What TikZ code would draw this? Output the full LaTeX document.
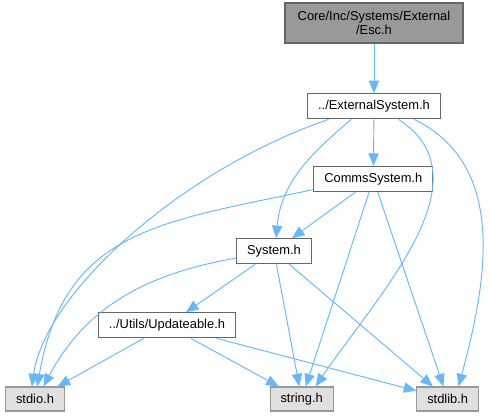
\documentclass[tikz,border=0pt]{standalone}
\usepackage{fontspec}
\setmainfont{Liberation Sans}
\usepackage{xcolor}
\definecolor{EdgeBlue}  {HTML}{63B8FF}
\definecolor{BoxGray}   {HTML}{666666}
\definecolor{RootFill}  {HTML}{999999}
\definecolor{LeafFill}  {HTML}{E0E0E0}
\definecolor{LeafGray}  {HTML}{999999}
\usepackage{tikz}
\usetikzlibrary{
  arrows.meta,
  positioning
}

\begin{document}
\begin{tikzpicture}[
  font=\fontsize{11}{12.5}\selectfont,
  header/.style={
    draw=BoxGray, fill=white,
    line width=0.9pt,
    inner xsep=0.31cm, inner ysep=0pt,
    minimum height=0.75cm,
    align=center
  },
  root/.style={
    header, fill=RootFill,
    minimum width=5.34cm,
    minimum height=1.2cm
  },
  leaf/.style={
    header, draw=LeafGray, fill=LeafFill,
    minimum height=0.72cm
  },
  dep/.style={
    -{Triangle[length=0.38cm, width=0.31cm]},
    line width=0.8pt,
    color=EdgeBlue}
]
\useasboundingbox (0,0) rectangle (14.73,12.51);

\node[root] (esc) at (11.22,11.82)
  {Core/Inc/Systems/External\\/Esc.h};
\node[header] (ext) at (11.22,9.32)
  {../ExternalSystem.h};
\node[header] (comms) at (11.2,7.14)
  {CommsSystem.h};
\node[header] (sys) at (8.22,4.97)
  {System.h};
\node[header] (upd) at (5.01,2.75)
  {../Utils/Updateable.h};
\node[leaf] (stdio) at (1.05,0.54)
  {stdio.h};
\node[leaf] (string) at (9.05,0.54)
  {string.h};
\node[leaf] (stdlib) at (13.43,0.54)
  {stdlib.h};

% Esc.h
\draw[dep] (esc) -- (ext);

% ExternalSystem.h
\draw[dep] (ext.-164) to[out=-161, in=82, in looseness=0.6]
  (stdio.104);
\draw[dep] (ext.-150) to[out=-140, in=85] (sys.81);
\draw[dep] (ext) -- (comms);
\draw[dep] (ext.-28) to[out=-33, in=56] (string.42);
\draw[dep] (ext.-18) to[out=-26, in=75] (stdlib.49);

% CommsSystem.h
\draw[dep] (comms.-170) to[out=192, in=80, looseness=1.2]
  (stdio.80);
\draw[dep] (comms) -- (sys);
\draw[dep] (comms) -- (string);
\draw[dep] (comms) -- (stdlib);

% System.h
\draw[dep] (sys.-170) to[out=190, in=62] (stdio.56);
\draw[dep] (sys) -- (upd);
\draw[dep] (sys) -- (string);
\draw[dep] (sys) -- (stdlib);

% Updateable.h
\draw[dep] (upd) -- (stdio);
\draw[dep] (upd) -- (string);
\draw[dep] (upd) -- (stdlib);
\end{tikzpicture}
\end{document}
